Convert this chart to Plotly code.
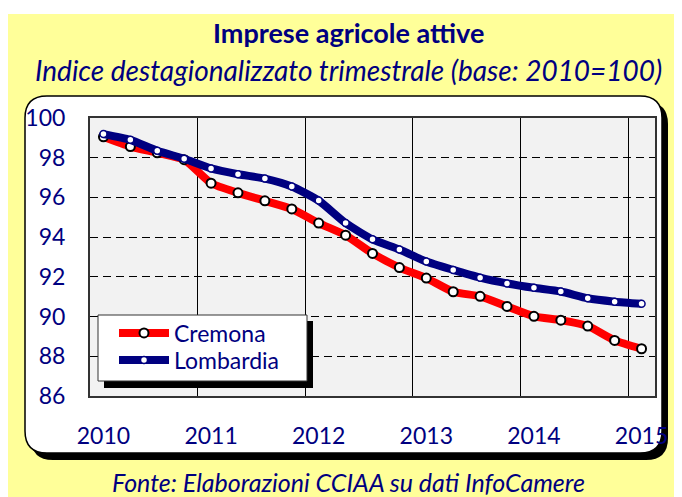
import plotly.graph_objects as go

# ---------------- data ----------------
quarters = list(range(21))  # 2010Q1 ... 2015Q1
cremona = [99.05, 98.56, 98.25, 97.90, 96.72, 96.23, 95.83, 95.42, 94.71, 94.10,
           93.18, 92.47, 91.94, 91.25, 91.02, 90.51, 90.01, 89.82, 89.52, 88.80, 88.38]
lombardia = [99.19, 98.90, 98.35, 97.95, 97.46, 97.17, 96.95, 96.55, 95.84, 94.71,
             93.89, 93.38, 92.77, 92.35, 91.96, 91.67, 91.45, 91.26, 90.92, 90.75, 90.64]
year_ticks = [0, 4, 8, 12, 16, 20]
year_labels = ["2010", "2011", "2012", "2013", "2014", "2015"]
year_bounds = [3.5, 7.5, 11.5, 15.5, 19.5]

OFF = 8                      # page body margin
W, H = 682 - OFF, 497 - OFF  # figure size
# plot area in screen pixels
SL, SR, ST, SB = 90, 655, 118, 396
L, R, T, B = SL - OFF, SR - OFF, ST - OFF, SB - OFF
NAVY = "#000080"
FONT = "Lato"

def px(x):
    """screen pixel x -> paper x"""
    return (x - OFF - L) / (R - L)

def py(y):
    """screen pixel y -> paper y"""
    return (B - (y - OFF)) / (B - T)

def rrect(x0, y0, x1, y1, r):
    pts = [
        f"M {px(x0 + r)} {py(y0)}",
        f"L {px(x1 - r)} {py(y0)}",
        f"Q {px(x1)} {py(y0)} {px(x1)} {py(y0 + r)}",
        f"L {px(x1)} {py(y1 - r)}",
        f"Q {px(x1)} {py(y1)} {px(x1 - r)} {py(y1)}",
        f"L {px(x0 + r)} {py(y1)}",
        f"Q {px(x0)} {py(y1)} {px(x0)} {py(y1 - r)}",
        f"L {px(x0)} {py(y0 + r)}",
        f"Q {px(x0)} {py(y0)} {px(x0 + r)} {py(y0)}",
        "Z",
    ]
    return " ".join(pts)

fig = go.Figure()
fig.add_trace(go.Scatter(
    x=quarters, y=cremona, name="Cremona", mode="lines+markers", legend="legend",
    line=dict(color="#FF0000", width=8, shape="spline", smoothing=0.6),
    marker=dict(size=9, color="white", line=dict(color="black", width=2)),
))
fig.add_trace(go.Scatter(
    x=quarters, y=lombardia, name="Lombardia", mode="lines+markers", legend="legend2",
    line=dict(color=NAVY, width=8, shape="spline", smoothing=0.6),
    marker=dict(size=7, color="white", line=dict(color=NAVY, width=1.5)),
))

shapes = [
    dict(type="rect", xref="paper", yref="paper", layer="below",
         x0=px(8), x1=px(690), y0=py(14), y1=py(505),
         fillcolor="#FFFF99", line=dict(width=0)),
    dict(type="path", xref="paper", yref="paper", layer="below",
         path=rrect(31, 102, 668, 460, 22), fillcolor="black", line=dict(width=0)),
    dict(type="path", xref="paper", yref="paper", layer="below",
         path=rrect(25, 96, 662, 453, 22), fillcolor="white",
         line=dict(color="black", width=1.5)),
    dict(type="rect", xref="paper", yref="paper", layer="below",
         x0=0, x1=1, y0=0, y1=1, fillcolor="#F2F2F2", line=dict(width=0)),
    # legend box with shadow
    dict(type="rect", xref="paper", yref="paper", layer="above",
         x0=px(104), x1=px(313), y0=py(388), y1=py(321),
         fillcolor="black", line=dict(width=0)),
    dict(type="rect", xref="paper", yref="paper", layer="above",
         x0=px(98), x1=px(307), y0=py(381), y1=py(315),
         fillcolor="white", line=dict(color="#333333", width=1)),
]

annotations = [
    dict(text="<b>Imprese agricole attive</b>", xref="paper", yref="paper",
         x=px(348), y=py(33), xanchor="center", yanchor="middle", showarrow=False,
         font=dict(family=FONT, size=27, color=NAVY)),
    dict(text="<i>Indice destagionalizzato trimestrale (base: 2010=100)</i>",
         xref="paper", yref="paper", x=px(348), y=py(70), xanchor="center",
         yanchor="middle", showarrow=False, font=dict(family=FONT, size=28, color=NAVY)),
    dict(text="<i>Fonte: Elaborazioni CCIAA su dati InfoCamere</i>",
         xref="paper", yref="paper", x=px(348), y=py(482), xanchor="center",
         yanchor="middle", showarrow=False, font=dict(family=FONT, size=25, color=NAVY)),
]

leg_common = dict(xanchor="left", yanchor="middle", bgcolor="rgba(0,0,0,0)",
                  borderwidth=0, font=dict(family=FONT, size=23, color=NAVY),
                  itemwidth=50)

fig.update_layout(
    width=W, height=H,
    margin=dict(l=L, r=W - R, t=T, b=H - B, pad=0),
    paper_bgcolor="white", plot_bgcolor="rgba(0,0,0,0)",
    shapes=shapes, annotations=annotations,
    showlegend=True,
    legend=dict(x=px(114), y=py(333), **leg_common),
    legend2=dict(x=px(114), y=py(360), **leg_common),
    xaxis=dict(range=[-0.5, 20.5], tickmode="array", tickvals=year_ticks,
               ticktext=year_labels, showgrid=False, zeroline=False,
               ticks="", ticklabelstandoff=18,
               tickfont=dict(family=FONT, size=23, color=NAVY),
               showline=True, mirror=True, linecolor="#333333", linewidth=2,
               minor=dict(tickmode="array", tickvals=year_bounds, showgrid=True,
                          gridcolor="black", gridwidth=1, ticks="")),
    yaxis=dict(range=[86, 100], tickmode="array", tickvals=list(range(86, 101, 2)),
               showgrid=True, gridcolor="black", gridwidth=1, griddash="8px,5px",
               zeroline=False, ticks="", ticklabelstandoff=18,
               tickfont=dict(family=FONT, size=23, color=NAVY),
               showline=True, mirror=True, linecolor="#333333", linewidth=2),
)

fig.write_html("out.html")
